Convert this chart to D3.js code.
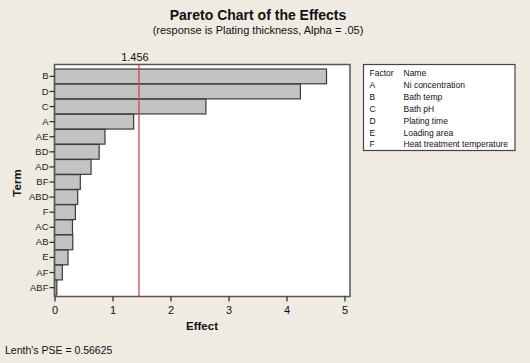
<!DOCTYPE html>
<html>
<head>
<meta charset="utf-8">
<script src="https://cdn.jsdelivr.net/npm/d3@7"></script>
<style>
body { margin: 0; background: #efebe2; }
svg { display: block; font-family: "Liberation Sans", Arial, sans-serif; }
</style>
</head>
<body>
<script>
// terms sorted by absolute effect, largest first
var terms = ['B', 'D', 'C', 'A', 'AE', 'BD', 'AD', 'BF', 'ABD', 'F', 'AC', 'AB', 'E', 'AF', 'ABF'];
var effects = [4.69, 4.24, 2.61, 1.365, 0.87, 0.77, 0.63, 0.445, 0.40, 0.36, 0.31, 0.315, 0.233, 0.135, 0.04];
var xTicks = [0, 1, 2, 3, 4, 5];
var critical = 1.456;
var factors = ['A', 'B', 'C', 'D', 'E', 'F'];
var factorNames = ['Ni concentration', 'Bath temp', 'Bath pH', 'Plating time', 'Loading area', 'Heat treatment temperature'];

var W = 530, H = 363;
var plotL = 54.5, plotR = 350, plotT = 64.5, plotB = 296.5;
var font = '"Liberation Sans", Arial, sans-serif';

var svg = d3.select('body').append('svg')
	.attr('width', W).attr('height', H);

svg.append('rect').attr('width', W).attr('height', H).attr('fill', '#efebe2');

// titles
svg.append('text').text('Pareto Chart of the Effects')
	.attr('x', 258).attr('y', 20).attr('text-anchor', 'middle')
	.attr('font-size', '14px').attr('font-weight', 'bold').attr('fill', '#111');
svg.append('text').text('(response is Plating thickness, Alpha = .05)')
	.attr('x', 258).attr('y', 34).attr('text-anchor', 'middle')
	.attr('font-size', '11px').attr('fill', '#111');

var xScale = d3.scaleLinear().domain([0, 5.095]).range([plotL, plotR]);
var yScale = d3.scaleBand().domain(terms).range([69, 295]).paddingInner(0.02);

// plot area
svg.append('rect').attr('x', plotL).attr('y', plotT)
	.attr('width', plotR - plotL).attr('height', plotB - plotT)
	.attr('fill', '#fff');

svg.append('g').selectAll('rect')
	.data(terms)
	.enter()
	.append('rect')
	.attr('x', xScale(0))
	.attr('y', function(d){ return yScale(d); })
	.attr('width', function(d, i){ return xScale(effects[i]) - xScale(0); })
	.attr('height', yScale.bandwidth())
	.attr('fill', '#c3c3c3')
	.attr('stroke', '#3a3a3a').attr('stroke-width', 1.2);

// reference line
svg.append('line')
	.attr('x1', xScale(critical)).attr('x2', xScale(critical))
	.attr('y1', plotT).attr('y2', plotB)
	.attr('stroke', '#d9434a').attr('stroke-width', 1.3);
svg.append('text').text(critical.toFixed(3))
	.attr('x', xScale(critical) - 4).attr('y', 61).attr('text-anchor', 'middle')
	.attr('font-size', '11px').attr('fill', '#111');

// frame
svg.append('rect').attr('x', plotL).attr('y', plotT)
	.attr('width', plotR - plotL).attr('height', plotB - plotT)
	.attr('fill', 'none').attr('stroke', '#555').attr('stroke-width', 1.5);

// axes
var xAxis = d3.axisBottom(xScale).tickValues(xTicks).tickFormat(d3.format('d')).tickSize(5).tickSizeOuter(0);
var gx = svg.append('g').attr('transform', 'translate(0,' + plotB + ')').call(xAxis);
gx.select('.domain').remove();
gx.selectAll('line').attr('stroke', '#333').attr('stroke-width', 1.3);
gx.selectAll('text').attr('font-size', '11px').attr('fill', '#111').attr('dy', '0.9em')
	.attr('font-family', font);

var yAxis = d3.axisLeft(yScale).tickSize(5).tickSizeOuter(0);
var gy = svg.append('g').attr('transform', 'translate(' + plotL + ',0)').call(yAxis);
gy.select('.domain').remove();
gy.selectAll('line').attr('stroke', '#333').attr('stroke-width', 1.3);
gy.selectAll('text').attr('font-size', '9.5px').attr('fill', '#222').attr('x', -6)
	.attr('font-family', font);

// axis labels
svg.append('text').text('Effect')
	.attr('x', 202).attr('y', 330).attr('text-anchor', 'middle')
	.attr('font-size', '11.5px').attr('font-weight', 'bold').attr('fill', '#111');
svg.append('text').text('Term')
	.attr('transform', 'translate(21,183) rotate(-90)').attr('text-anchor', 'middle')
	.attr('font-size', '11.5px').attr('font-weight', 'bold').attr('fill', '#111');

svg.append('text').text("Lenth's PSE = 0.56625")
	.attr('x', 5).attr('y', 354)
	.attr('font-size', '10.5px').attr('fill', '#111');

// legend
var leg = svg.append('g').attr('transform', 'translate(363.5,64.5)');
leg.append('rect').attr('width', 151.5).attr('height', 86)
	.attr('fill', '#fff').attr('stroke', '#444').attr('stroke-width', 1.2);
leg.append('text').text('Factor').attr('x', 6).attr('y', 11.5)
	.attr('font-size', '8.5px').attr('fill', '#111');
leg.append('text').text('Name').attr('x', 40).attr('y', 11.5)
	.attr('font-size', '8.5px').attr('fill', '#111');
var rows = leg.selectAll('.row')
	.data(factors)
	.enter()
	.append('g')
	.attr('class', 'row')
	.attr('transform', function(d, i){ return 'translate(0,' + (23.4 + i * 11.9) + ')'; });
rows.append('text').text(function(d){ return d; }).attr('x', 6)
	.attr('font-size', '8.5px').attr('fill', '#111');
rows.append('text').text(function(d, i){ return factorNames[i]; }).attr('x', 40)
	.attr('font-size', '8.5px').attr('fill', '#111');
</script>
</body>
</html>
